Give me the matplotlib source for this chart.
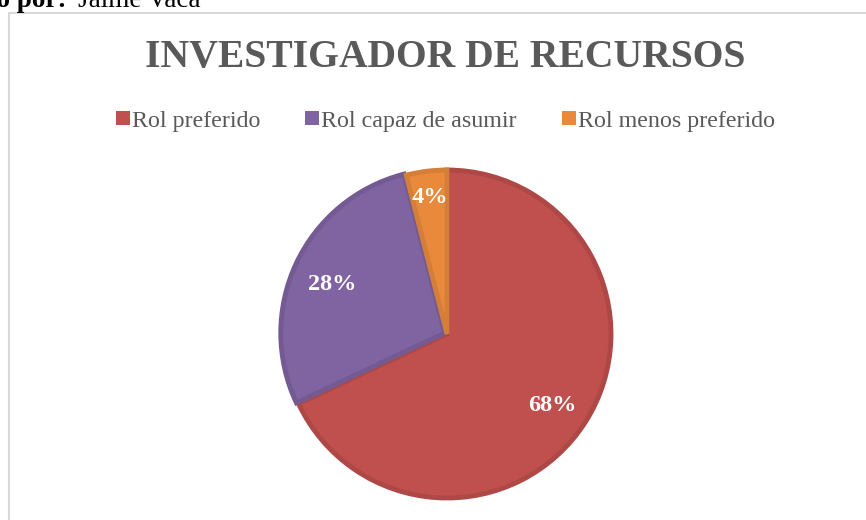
import matplotlib.pyplot as plt
from matplotlib.patches import Rectangle
import numpy as np

plt.rcParams['font.family'] = ['Liberation Serif', 'DejaVu Serif']

# data
categories = ['Rol preferido', 'Rol capaz de asumir', 'Rol menos preferido']
values = [68, 28, 4]
colors = ['#C0504D', '#8064A2', '#E8893C']
edges = ['#AE4846', '#735A92', '#D47E38']
explode = [0, 0.015, 0]

fig = plt.figure(figsize=(8.66, 5.2), dpi=100)

# chart frame
fig.patches.append(Rectangle((8.5 / 866, -0.05), 1.0, (520 - 13) / 520 + 0.05,
                             transform=fig.transFigure, fill=False,
                             edgecolor='#D9D9D9', linewidth=1.5))

# cut-off caption above the chart
fig.text(66 / 866, 1.0 - 7 / 520, 'Elaborado por:', fontsize=19.5, fontweight='bold',
         va='baseline', ha='right')
fig.text(78 / 866, 1.0 - 7 / 520, 'Jaime Vaca', fontsize=19.5, va='baseline', ha='left')

fig.text(0.514, 1.0 - 58 / 520, 'INVESTIGADOR DE RECURSOS', fontsize=28.5,
         fontweight='bold', color='#595959', ha='center', va='center')

# pie
r_px = 164
cx, cy = 447, 334
ax = fig.add_axes([(cx - r_px) / 866, (520 - cy - r_px) / 520,
                   2 * r_px / 866, 2 * r_px / 520])
wedges, texts, autotexts = ax.pie(
    values, colors=colors, startangle=90, counterclock=False,
    explode=explode, autopct='%1.0f%%', pctdistance=0.76,
    wedgeprops=dict(linewidth=3.5),
    textprops=dict(color='white', fontsize=17.5, fontweight='bold'))
for w, e in zip(wedges, edges):
    w.set_edgecolor(e)

# nudge the big labels down a little
for t in autotexts[:2]:
    x, y = t.get_position()
    t.set_position((x, y - 0.03))

# small slice label sits further out
ang = np.deg2rad(90 - 360 * (values[0] + values[1] + values[2] / 2) / 100)
autotexts[2].set_position((0.84 * np.cos(ang), 0.84 * np.sin(ang)))

ax.set_xlim(-1, 1)
ax.set_ylim(-1, 1)
ax.set_aspect('equal')
ax.axis('off')

handles = [Rectangle((0, 0), 1, 1, facecolor=c) for c in colors]
fig.legend(handles, categories, loc='center', bbox_to_anchor=(0.5144, 1 - 121 / 520),
           ncol=3, frameon=False, fontsize=17.3, labelcolor='#595959',
           handlelength=0.58, handleheight=0.58, handletextpad=0.08,
           columnspacing=1.87)

fig.savefig('out.png', dpi=100)
